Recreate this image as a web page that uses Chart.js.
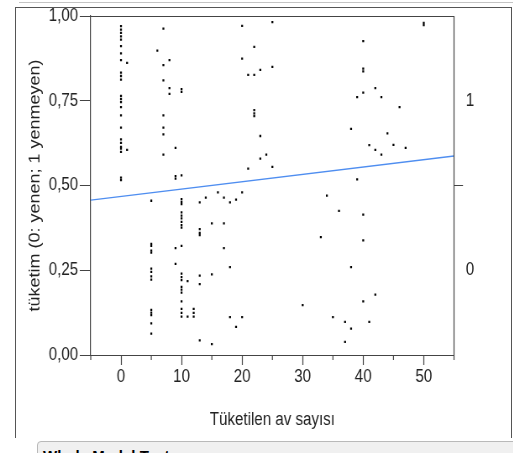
<!DOCTYPE html>
<html>
<head>
<meta charset="utf-8">
<script src="https://cdn.jsdelivr.net/npm/chart.js@4.4.0/dist/chart.umd.min.js"></script>
<style>
  body { margin: 0; background: #fff; font-family: "Liberation Sans", Arial, sans-serif; }
  #wrap { position: relative; width: 513px; height: 453px; overflow: hidden; }
  #topline { position: absolute; left: 19px; top: 2px; width: 494px; height: 0; border-top: 1px solid #c4c4c4; }
  #frame { position: absolute; left: 15px; top: 7px; width: 495px; height: 430px; border: 1px solid #555; border-bottom: none; }
  #panel { position: absolute; left: 37px; top: 441px; width: 490px; height: 30px; border: 1px solid #b9b9b9; border-radius: 4px; background: #f0f0f0; }
  #panel span { position: absolute; left: 5px; top: 5px; font-weight: bold; font-size: 15px; color: #000; }
  /* the source screenshot is squeezed sideways, so the chart is drawn wider and squeezed back */
  #squeeze { position: absolute; left: 0; top: 0; transform: scaleX(0.84); transform-origin: 0 0; }
</style>
</head>
<body>
<div id="wrap">
  <div id="topline"></div>
  <div id="frame"></div>
  <div id="panel"><span>Whole Model Test</span></div>
  <div id="squeeze"><canvas id="chart" width="611" height="440"></canvas></div>
</div>
<script>
// response 1 (yenmeyen) points
const notEatenX = [0,0,0,0,0,0,0,0,0,0,0,0,0,0,0,0,0,0,0,0,0,0,0,0,
  1,1, 6, 7,7,7,7,7,7,7, 8,8,8, 9,9,9, 10,10,10, 20,20, 21,21,
  22,22,22,22,22, 23,23,23, 24, 25,25,25, 38, 39, 40,40,40,40, 41,
  42,42, 43,43, 44, 45, 46, 47, 50,50];
const notEatenY = [0.97,0.96,0.95,0.94,0.93,0.911,0.89,0.87,0.833,0.823,0.812,0.764,0.755,0.746,0.731,0.707,0.671,0.636,0.626,0.614,0.609,0.599,0.523,0.516,
  0.862,0.605, 0.898, 0.963,0.855,0.810,0.707,0.671,0.651,0.591, 0.870,0.787,0.770, 0.611,0.528,0.520, 0.784,0.776,0.530, 0.971,0.874, 0.826,0.550,
  0.909,0.826,0.722,0.713,0.705, 0.841,0.646,0.579, 0.591, 0.982,0.850,0.555, 0.667, 0.761, 0.926,0.845,0.837,0.774, 0.619,
  0.787,0.605, 0.761,0.591, 0.654, 0.620, 0.731, 0.611, 0.980,0.973];

// response 0 (yenen) points
const eatenX = [5,5,5,5,5,5,5,5,5,5,5,5,5,5, 9,9,
  10,10,10,10,10,10,10,10,10,10,10,10,10,10,10,10,10,10,10,10,
  11,11, 12,12,12, 13,13,13,13,13,13,13, 14, 15,15,15, 16, 17,17,17,
  18,18,18, 19,19, 20,20, 30, 33, 34, 35, 36, 37,37, 38,38, 39, 40,40,40, 41, 42];
const eatenY = [0.455,0.328,0.322,0.308,0.302,0.255,0.245,0.232,0.222,0.133,0.125,0.118,0.093,0.063, 0.315,0.269,
  0.460,0.452,0.445,0.421,0.411,0.403,0.393,0.383,0.376,0.322,0.240,0.230,0.221,0.201,0.193,0.184,0.158,0.136,0.124,0.113,
  0.218,0.113, 0.136,0.124,0.113, 0.450,0.371,0.360,0.354,0.234,0.209,0.043, 0.464, 0.388,0.238,0.032, 0.480, 0.464,0.388,0.315,
  0.450,0.259,0.112, 0.458,0.083, 0.480,0.112, 0.147, 0.348, 0.470, 0.112, 0.425, 0.098,0.039, 0.259,0.078, 0.518, 0.414,0.338,0.158, 0.098, 0.178];

// fitted line
const fitX = [-5, 55];
const fitY = [0.457, 0.587];

const xTicks = [-5, 0, 5, 10, 15, 20, 25, 30, 35, 40, 45, 50, 55];
const yTicks = [0, 0.25, 0.5, 0.75, 1];
const rightTicks = [0.25, 0.5, 0.75];
const rightLabels = { 0.25: '0', 0.75: '1' };

const toPts = (xs, ys) => xs.map((x, i) => ({ x: x, y: ys[i] }));
const axisColor = '#444';
const family = '"Liberation Sans", Arial, sans-serif';
const tickFont = { family: family, size: 18 };
const titleFont = { family: family, size: 18 };

// top/right frame of the plot + short minor ticks on x
const framePlugin = {
  id: 'frame',
  afterDraw(chart) {
    const { ctx, chartArea: a, scales } = chart;
    ctx.save();
    ctx.strokeStyle = axisColor;
    ctx.lineWidth = 1;
    ctx.beginPath();
    ctx.moveTo(a.left - 13, Math.round(a.top) + 0.5);
    ctx.lineTo(a.right, Math.round(a.top) + 0.5);
    ctx.stroke();
    ctx.lineWidth = 1.2;
    ctx.beginPath();
    ctx.moveTo(a.right, a.top);
    ctx.lineTo(a.right, a.bottom + 5);
    scales.x.ticks.forEach(t => {
      if (t.value % 10 !== 0) {
        const px = scales.x.getPixelForValue(t.value);
        ctx.moveTo(px, a.bottom);
        ctx.lineTo(px, a.bottom + 5);
      }
    });
    ctx.stroke();
    ctx.restore();
  }
};

new Chart(document.getElementById('chart'), {
  type: 'scatter',
  data: {
    datasets: [
      {
        label: 'yenmeyen',
        data: toPts(notEatenX, notEatenY),
        backgroundColor: '#000',
        borderWidth: 0,
        pointStyle: 'rect',
        pointRadius: 1.6,
      },
      {
        label: 'yenen',
        data: toPts(eatenX, eatenY),
        backgroundColor: '#000',
        borderWidth: 0,
        pointStyle: 'rect',
        pointRadius: 1.6,
      },
      {
        label: 'fit',
        data: toPts(fitX, fitY),
        showLine: true,
        borderColor: '#4f8ef0',
        borderWidth: 1.3,
        pointRadius: 0,
      },
    ],
  },
  options: {
    responsive: false,
    animation: false,
    layout: { padding: { left: 24, top: 16, right: 0, bottom: 0 } },
    plugins: { legend: { display: false }, tooltip: { enabled: false } },
    scales: {
      x: {
        type: 'linear',
        min: -5,
        max: 55,
        afterBuildTicks: s => { s.ticks = xTicks.map(v => ({ value: v })); },
        afterFit: s => { s.height = 85; },
        ticks: {
          color: '#222',
          font: tickFont,
          padding: 1,
          maxRotation: 0,
          autoSkip: false,
          callback: v => (v % 10 === 0 ? String(v) : ''),
        },
        grid: {
          drawOnChartArea: false,
          tickLength: 10,
          tickWidth: 1.2,
          tickColor: c => (c.tick && c.tick.value % 10 === 0 ? axisColor : 'transparent'),
        },
        border: { color: axisColor, width: 1 },
        title: {
          display: true,
          text: 'Tüketilen av sayısı',
          color: '#222',
          font: titleFont,
          padding: { top: 0, bottom: 9 },
        },
      },
      y: {
        min: 0,
        max: 1,
        afterBuildTicks: s => { s.ticks = yTicks.map(v => ({ value: v })); },
        afterFit: s => { s.width = 84; },
        ticks: {
          color: '#222',
          font: tickFont,
          padding: 2,
          callback: v => v.toFixed(2).replace('.', ','),
        },
        grid: { drawOnChartArea: false, tickLength: 13, tickColor: axisColor },
        border: { color: axisColor, width: 1.2 },
        title: {
          display: true,
          text: 'tüketim (0: yenen; 1 yenmeyen)',
          color: '#222',
          font: titleFont,
          padding: { top: 7, bottom: 0 },
        },
      },
      y2: {
        position: 'right',
        min: 0,
        max: 1,
        afterBuildTicks: s => { s.ticks = rightTicks.map(v => ({ value: v })); },
        afterFit: s => { s.width = 70.5; },
        ticks: {
          color: '#222',
          font: tickFont,
          padding: 3.3,
          callback: v => rightLabels[v] || '',
        },
        grid: {
          drawOnChartArea: false,
          tickLength: 10.7,
          tickColor: c => (c.tick && c.tick.value === 0.5 ? axisColor : 'transparent'),
        },
        border: { display: false },
      },
    },
  },
  plugins: [framePlugin],
});
</script>
</body>
</html>
